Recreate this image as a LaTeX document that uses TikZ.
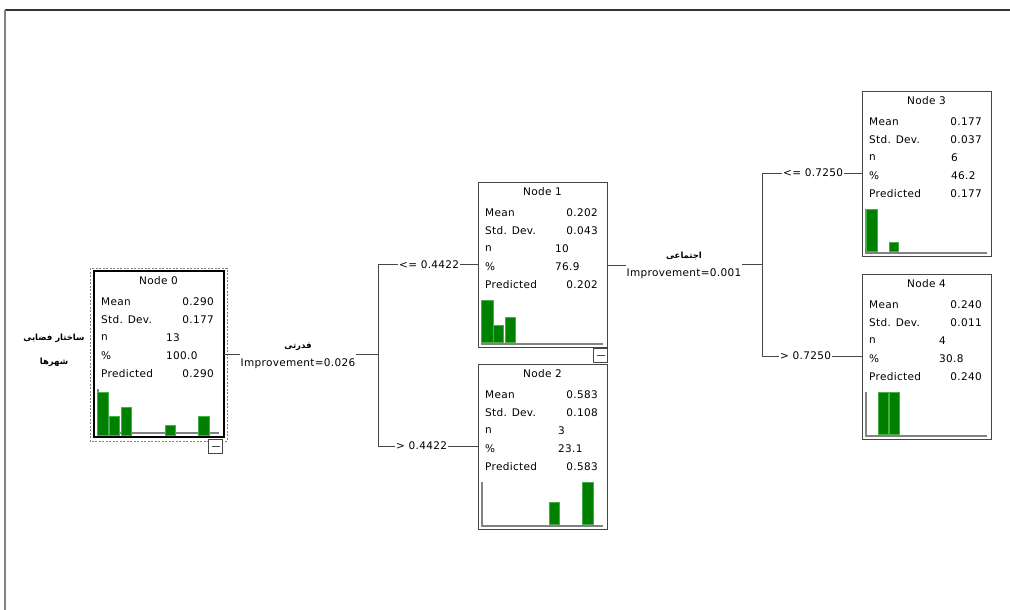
\documentclass[tikz,border=0pt]{standalone}
\usepackage{fontspec}
\setmainfont{DejaVu Sans}[LetterSpace=3]
\newfontfamily\arabicfont[Script=Arabic]{DejaVu Sans}
\TeXXeTstate=1
\usetikzlibrary{positioning}
\definecolor{treegreen}{RGB}{0,128,0}
\definecolor{baredge}{RGB}{70,175,70}
\definecolor{treegray}{RGB}{70,70,70}
\definecolor{axisgray}{RGB}{130,130,130}

% one tree node: number, left, top, mean, sd, n, percent, predicted, value column
\newcommand{\treenode}[9]{%
  \node[treebox, anchor=north west] (node#1) at (#2,#3) {};
  \node[celltext] at ({#2+64.5},{#3+10}) {Node #1};
  \node[celltext, anchor=west] at ({#2+7},{#3+31})  {Mean};
  \node[celltext, anchor=west] at ({#2+7},{#3+49})  {Std. Dev.};
  \node[celltext, anchor=west] at ({#2+7},{#3+67})  {n};
  \node[celltext, anchor=west] at ({#2+7},{#3+85})  {\%};
  \node[celltext, anchor=west] at ({#2+7},{#3+103}) {Predicted};
  \node[celltext, anchor=east] at ({#2+120},{#3+31})  {#4};
  \node[celltext, anchor=east] at ({#2+120},{#3+49})  {#5};
  \node[celltext, anchor=west] at ({#2+#9},{#3+67})   {#6};
  \node[celltext, anchor=west] at ({#2+#9},{#3+85})   {#7};
  \node[celltext, anchor=east] at ({#2+120},{#3+103}) {#8};
  \draw[axisline] ({#2+4},{#3+118}) |- ({#2+125},{#3+162});
}

\begin{document}
\begin{tikzpicture}[
    x=1pt, y=-1pt,
    treebox/.style={draw=treegray, line width=1.1pt, fill=white,
                    minimum width=129pt, minimum height=165pt, inner sep=0pt},
    celltext/.style={font=\fontsize{10.5}{12}\selectfont, text=black, inner sep=0pt},
    axisline/.style={draw=axisgray, line width=1.4pt},
    bar/.style={fill=treegreen, draw=baredge, line width=0.6pt},
    splitlbl/.style={font=\fontsize{10.5}{18}\selectfont, text=black, align=center, inner sep=1pt},
    branchlbl/.style={font=\fontsize{10.5}{12}\selectfont, text=black, inner sep=1pt},
    arablbl/.style={font=\arabicfont\bfseries\fontsize{8.5}{24}\selectfont, text=black, align=center, inner sep=0pt},
    minusbox/.style={draw=treegray, line width=0.9pt, fill=white, minimum size=14pt, inner sep=0pt},
    conn/.style={draw=treegray, line width=1pt}
  ]
    \useasboundingbox (0,0) rectangle (1010,610);

    % Window frame
    \draw[black!80, line width=2.6pt] (5,10) -- (1010,10);
    \draw[axisgray, line width=1.3pt] (5,10) -- (5,610);

    % Tree nodes
    \treenode{0}{94}{271}{0.290}{0.177}{13}{100.0}{0.290}{72}
    \treenode{1}{478}{182}{0.202}{0.043}{10}{76.9}{0.202}{77}
    \treenode{2}{478}{364}{0.583}{0.108}{3}{23.1}{0.583}{80}
    \treenode{3}{862}{91}{0.177}{0.037}{6}{46.2}{0.177}{89}
    \treenode{4}{862}{274}{0.240}{0.011}{4}{30.8}{0.240}{77}

    % Selected root node
    \draw[black, line width=2.4pt] (node0.north west) rectangle (node0.south east);
    \draw[axisgray, line width=1pt, dash pattern=on 2pt off 1.5pt]
      ([shift={(-4pt,3pt)}]node0.north west) rectangle ([shift={(3pt,-4pt)}]node0.south east);

    % Histograms
    \foreach \l/\r/\t in {97/108/392, 109/119/416, 121/131/407, 165/175/425, 198/209/416}
      \filldraw[bar] (\l,435) rectangle (\r,\t);
    \foreach \l/\r/\t in {481/493/300, 493/503/325, 505/515/317}
      \filldraw[bar] (\l,342) rectangle (\r,\t);
    \foreach \l/\r/\t in {549/559/502, 582/593/482}
      \filldraw[bar] (\l,524) rectangle (\r,\t);
    \foreach \l/\r/\t in {866/877/209, 889/898/242}
      \filldraw[bar] (\l,251) rectangle (\r,\t);
    \foreach \l/\r/\t in {878/888/392, 889/899/392}
      \filldraw[bar] (\l,434) rectangle (\r,\t);

    % Collapse buttons
    \node[minusbox, anchor=north east] (minus0) at ([shift={(-1pt,-2pt)}]node0.south east) {};
    \draw[treegray, line width=0.9pt] ([xshift=-4pt]minus0.center) -- ([xshift=4pt]minus0.center);
    \node[minusbox, anchor=north east] (minus1) at (node1.south east) {};
    \draw[treegray, line width=0.9pt] ([xshift=-4pt]minus1.center) -- ([xshift=4pt]minus1.center);

    % Dependent variable
    \node[arablbl] (target) at (54,350)
      {\beginR ساختار فضایی\endR\\\beginR شهرها\endR};

    % First split
    \node[splitlbl] (split0) at (298,356)
      {{\arabicfont\bfseries\fontsize{8.5}{10}\selectfont\beginR قدرتی\endR}\\Improvement=0.026};
    \coordinate (j0)  at (378,354.5);
    \coordinate (j0t) at (378,264.5);
    \coordinate (j0b) at (378,446);
    \node[branchlbl, anchor=west] (b1) at (398,264.5) {<= 0.4422};
    \node[branchlbl, anchor=west] (b2) at (395,446) {> 0.4422};
    \draw[conn] (node0.east) -- (split0.west |- node0.east);
    \draw[conn] (split0.east |- j0) -- (j0);
    \draw[conn] (j0t) -- (j0b);
    \draw[conn] (j0t) -- (b1.west);
    \draw[conn] (b1.east) -- (b1.east -| node1.west);
    \draw[conn] (j0b) -- (b2.west);
    \draw[conn] (b2.east) -- (b2.east -| node2.west);

    % Second split
    \node[splitlbl] (split1) at (684,265)
      {{\arabicfont\bfseries\fontsize{8.5}{10}\selectfont\beginR اجتماعی\endR}\\Improvement=0.001};
    \coordinate (j1)  at (762,264.5);
    \coordinate (j1t) at (762,173);
    \coordinate (j1b) at (762,356);
    \node[branchlbl, anchor=west] (b3) at (782,173) {<= 0.7250};
    \node[branchlbl, anchor=west] (b4) at (779,356) {> 0.7250};
    \draw[conn] (node1.east) -- (split1.west |- node1.east);
    \draw[conn] (split1.east |- j1) -- (j1);
    \draw[conn] (j1t) -- (j1b);
    \draw[conn] (j1t) -- (b3.west);
    \draw[conn] (b3.east) -- (b3.east -| node3.west);
    \draw[conn] (j1b) -- (b4.west);
    \draw[conn] (b4.east) -- (b4.east -| node4.west);
  \end{tikzpicture}
\end{document}
